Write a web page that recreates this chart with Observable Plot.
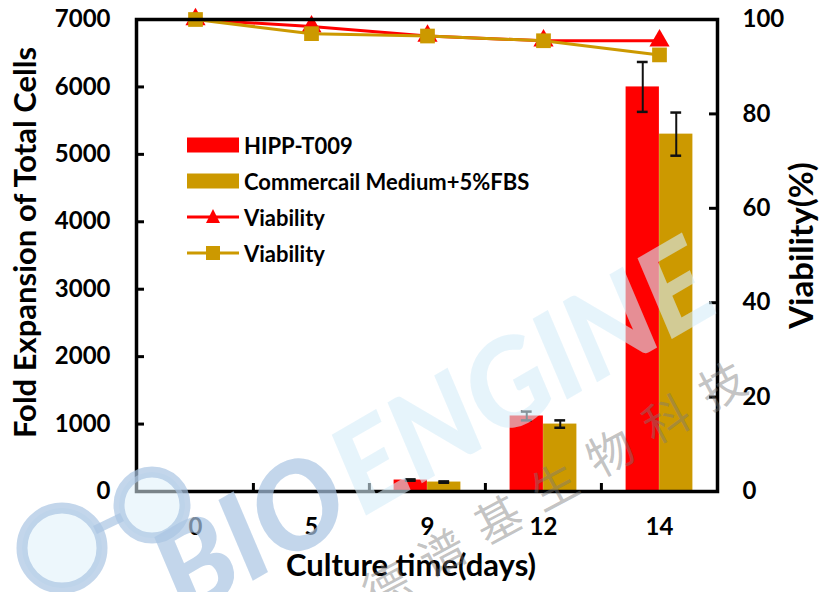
<!DOCTYPE html>
<html>
<head>
<meta charset="utf-8">
<script src="https://cdn.jsdelivr.net/npm/d3@7"></script>
<script src="https://cdn.jsdelivr.net/npm/@observablehq/plot@0.6"></script>
<style>
  html, body { margin: 0; padding: 0; background: #fff; }
  #wrap { position: relative; width: 821px; height: 592px; overflow: hidden; font-family: Lato, "Open Sans", sans-serif; }
  #legend { position: absolute; left: 187px; top: 127px; font-weight: 700; font-size: 22px; color: #000; }
  #legend .row { display: flex; align-items: center; height: 36px; }
  #legend svg { margin-right: 5px; }
  #wm { position: absolute; left: 0; top: 0; width: 821px; height: 592px; pointer-events: none; }
</style>
</head>
<body>
<div id="wrap">
  <div id="chart"></div>
  <div id="legend"></div>
  <svg id="wm" width="821" height="592"></svg>
</div>
<script>
const days = ["0", "5", "9", "12", "14"];
const hippFold = [1, 3, 170, 1120, 6000];
const hippErr  = [0, 0, 10, 65, 370];
const commFold = [1, 3, 140, 1000, 5300];
const commErr  = [0, 0, 10, 55, 320];
const hippViab = [100, 98.5, 96.5, 95.5, 95.5];
const commViab = [100, 97, 96.5, 95.5, 92.5];
const leftTicks = [0, 1000, 2000, 3000, 4000, 5000, 6000, 7000];
const rightTicks = [0, 20, 40, 60, 80, 100];
const seriesNames = ["HIPP-T009", "Commercail Medium+5%FBS", "Viability", "Viability"];
const red = "#ff0000", gold = "#cc9900";

const W = 821, H = 592, ml = 136, mr = 104, mt = 19, mb = 101;
const plotW = W - ml - mr, plotH = H - mt - mb;
const bw = plotW / days.length, half = bw / 2, barW = 33.5, cap = 11;
const k = 70; // viability -> left scale factor (7000/100)

const rows = days.map((d, i) => ({
  day: d, hipp: hippFold[i], hErr: hippErr[i], comm: commFold[i], cErr: commErr[i],
  hv: hippViab[i] * k, cv: commViab[i] * k
}));
const errRows = rows.filter(r => r.hErr > 0);

const font = "Lato, 'Open Sans', sans-serif";

const chart = Plot.plot({
  width: W, height: H,
  marginLeft: ml, marginRight: mr, marginTop: mt, marginBottom: mb,
  style: { fontFamily: font, fontWeight: 700, fontSize: "24px", color: "#000", background: "transparent", overflow: "visible" },
  x: { type: "band", domain: days, padding: 0, axis: null },
  y: { domain: [0, 7000], axis: null },
  marks: [
    Plot.barY(rows, { x: "day", y: "hipp", fill: red, insetLeft: half - barW, insetRight: half }),
    Plot.barY(rows, { x: "day", y: "comm", fill: gold, insetLeft: half, insetRight: half - barW }),
    // error bars
    Plot.ruleX(errRows, { x: "day", y1: d => d.hipp - d.hErr, y2: d => d.hipp + d.hErr, dx: -barW / 2, stroke: "#111", strokeWidth: 2 }),
    Plot.tickY(errRows, { x: "day", y: d => d.hipp - d.hErr, insetLeft: half - barW / 2 - cap / 2, insetRight: bw - (half - barW / 2 + cap / 2), stroke: "#111", strokeWidth: 2.5 }),
    Plot.tickY(errRows, { x: "day", y: d => d.hipp + d.hErr, insetLeft: half - barW / 2 - cap / 2, insetRight: bw - (half - barW / 2 + cap / 2), stroke: "#111", strokeWidth: 2.5 }),
    Plot.ruleX(errRows, { x: "day", y1: d => d.comm - d.cErr, y2: d => d.comm + d.cErr, dx: barW / 2, stroke: "#111", strokeWidth: 2 }),
    Plot.tickY(errRows, { x: "day", y: d => d.comm - d.cErr, insetLeft: half + barW / 2 - cap / 2, insetRight: bw - (half + barW / 2 + cap / 2), stroke: "#111", strokeWidth: 2.5 }),
    Plot.tickY(errRows, { x: "day", y: d => d.comm + d.cErr, insetLeft: half + barW / 2 - cap / 2, insetRight: bw - (half + barW / 2 + cap / 2), stroke: "#111", strokeWidth: 2.5 }),
    // viability lines
    Plot.line(rows, { x: "day", y: "hv", stroke: red, strokeWidth: 3 }),
    Plot.dot(rows, { x: "day", y: "hv", symbol: "triangle", r: 7.5, fill: red, stroke: "none" }),
    Plot.line(rows, { x: "day", y: "cv", stroke: gold, strokeWidth: 3 }),
    Plot.dot(rows, { x: "day", y: "cv", symbol: "square", r: 8.3, fill: gold, stroke: "none" }),
    // frame and inner ticks
    Plot.frame({ stroke: "#000", strokeWidth: 3.5 }),
    Plot.tickY(leftTicks.slice(1, -1), { y: d => d, insetRight: plotW - 8, stroke: "#000", strokeWidth: 3 }),
    Plot.tickY(rightTicks.slice(1, -1).map(v => v * k), { y: d => d, insetLeft: plotW - 8, stroke: "#000", strokeWidth: 3 }),
    Plot.tickX(days.slice(1), { x: d => d, dx: -half, insetTop: plotH - 8, stroke: "#000", strokeWidth: 3 }),
    // axes labels
    Plot.axisY(leftTicks, { anchor: "left", tickSize: 0, tickPadding: 26, tickFormat: "d", label: null, fontSize: 24 }),
    Plot.axisY(rightTicks.map(v => v * k), { anchor: "right", tickSize: 0, tickPadding: 25, tickFormat: d => d / k, label: null, fontSize: 24 }),
    Plot.axisX(days, { anchor: "bottom", tickSize: 0, tickPadding: 26, label: null, fontSize: 24 }),
    Plot.text(["Fold Expansion of Total Cells"], { frameAnchor: "left", dx: -110, dy: -13, rotate: -90, textAnchor: "middle", fontSize: 31, fontWeight: 700 }),
    Plot.text(["Viability(%)"], { frameAnchor: "right", dx: 85, dy: -10, rotate: -90, textAnchor: "middle", fontSize: 33, fontWeight: 700 }),
    Plot.text(["Culture time(days)"], { frameAnchor: "bottom", dx: -16, dy: 84, fontSize: 31, fontWeight: 700 })
  ]
});
document.getElementById("chart").appendChild(chart);

// legend
const legend = document.getElementById("legend");
const swatches = [
  `<svg width="52" height="16"><rect x="0" y="0.5" width="52" height="15" fill="${red}"/></svg>`,
  `<svg width="52" height="16"><rect x="0" y="0.5" width="52" height="15" fill="${gold}"/></svg>`,
  `<svg width="52" height="18"><line x1="0" x2="52" y1="9" y2="9" stroke="${red}" stroke-width="3"/><path d="M26,1 L33,15 L19,15 Z" fill="${red}"/></svg>`,
  `<svg width="52" height="18"><line x1="0" x2="52" y1="9" y2="9" stroke="${gold}" stroke-width="3"/><rect x="19" y="2" width="14" height="14" fill="${gold}"/></svg>`
];
seriesNames.forEach((name, i) => {
  const row = document.createElement("div");
  row.className = "row";
  row.innerHTML = swatches[i] + `<span>${name}</span>`;
  legend.appendChild(row);
});

// watermark (decorative)
const wm = d3.select("#wm");
const ring = (cx, cy, r) => {
  wm.append("circle").attr("cx", cx).attr("cy", cy).attr("r", r)
    .attr("fill", "#dff0fa").attr("fill-opacity", 0.55)
    .attr("stroke", "#a9c4e2").attr("stroke-width", 11).attr("stroke-opacity", 0.7);
};
ring(62, 548, 40);
ring(152, 505, 33);
wm.append("line").attr("x1", 95).attr("y1", 530).attr("x2", 122).attr("y2", 517)
  .attr("stroke", "#a9c4e2").attr("stroke-width", 9).attr("stroke-opacity", 0.7);
const g = wm.append("g").attr("transform", "translate(185,620) rotate(-30)");
g.append("text").text("BIO").attr("x", 0).attr("y", 0)
  .attr("font-family", font).attr("font-weight", 900).attr("font-style", "italic")
  .attr("font-size", 120).attr("fill", "#a9c4e2").attr("fill-opacity", 0.7);
g.append("text").text("ENGINE").attr("x", 205).attr("y", 0)
  .attr("font-family", font).attr("font-weight", 900).attr("font-style", "italic")
  .attr("font-size", 120).attr("fill", "#d6ecf8").attr("fill-opacity", 0.6);
const cn = "德谱基生物科技".split("");
cn.forEach((ch, i) => {
  const cx = 385 + i * 56, cy = 584 - i * 33.5;
  wm.append("text").text(ch).attr("x", cx).attr("y", cy)
    .attr("text-anchor", "middle").attr("dominant-baseline", "central")
    .attr("transform", `rotate(-28,${cx},${cy})`)
    .attr("font-family", "'Noto Sans CJK SC'").attr("font-size", 46)
    .attr("fill", "#7a7a7a").attr("fill-opacity", 0.45);
});
</script>
</body>
</html>
